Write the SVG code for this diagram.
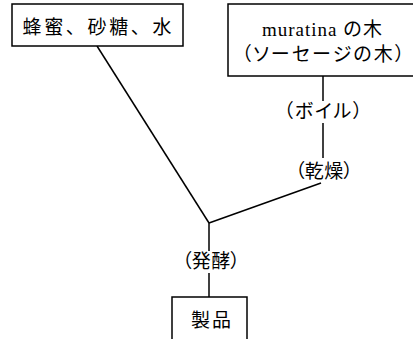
<svg xmlns="http://www.w3.org/2000/svg" width="413" height="339" viewBox="0 0 413 339">
<style>
.box{fill:#fff;stroke:#000;stroke-width:1.5}
.t{font-family:"Liberation Serif","Noto Sans CJK JP",serif;font-size:19px;fill:#000;text-anchor:middle}
.p{font-feature-settings:"palt"}
.ln{stroke:#000;stroke-width:1.5;fill:none}
</style>
<rect width="413" height="339" fill="#fff"/>
<g id="connectors">
<line class="ln" x1="97" y1="46" x2="209" y2="223"/>
<line class="ln" x1="323" y1="76" x2="323" y2="101"/>
<line class="ln" x1="323" y1="123" x2="323" y2="158"/>
<line class="ln" x1="321" y1="183" x2="209" y2="223"/>
<line class="ln" x1="209" y1="223" x2="209" y2="251"/>
<line class="ln" x1="209" y1="273" x2="209" y2="297"/>
</g>
<g id="ingredients">
<rect class="box" x="12" y="4" width="171" height="42"/>
<text class="t" x="97" y="34" textLength="149">蜂蜜、砂糖、水</text>
</g>
<g id="tree">
<rect class="box" x="228" y="4" width="195" height="72"/>
<text class="t" x="322" y="36" textLength="120">muratina の木</text>
<text class="t p" x="323" y="61" textLength="163">（ソーセージの木）</text>
</g>
<g id="boil">
<text class="t p" x="323" y="118" textLength="79">（ボイル）</text>
</g>
<g id="dry">
<text class="t p" x="324" y="178" textLength="58">（乾燥）</text>
</g>
<g id="ferment">
<text class="t p" x="211" y="268" textLength="58">（発酵）</text>
</g>
<g id="product">
<rect class="box" x="172" y="297" width="75" height="50"/>
<text class="t" x="211" y="327" textLength="40">製品</text>
</g>
</svg>
